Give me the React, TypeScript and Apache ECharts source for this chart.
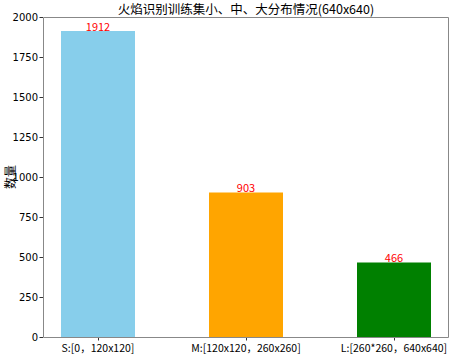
import React, { useEffect, useRef } from "react";
import * as echarts from "echarts";

const categories = ["S:[0，120x120]", "M:[120x120，260x260]", "L:[260*260，640x640]"];
const counts = [1912, 903, 466];
const barColors = ["#87CEEB", "#FFA500", "#008000"];
const yAxisTitle = "数量";

export default function App() {
  const ref = useRef<HTMLDivElement>(null);
  useEffect(() => {
    document.body.style.margin = "0";
    const chart = echarts.init(ref.current!, null, { renderer: "svg" });
    const font = "'Noto Sans CJK SC', 'DejaVu Sans', sans-serif";
    chart.setOption({
      animation: false,
      backgroundColor: "#fff",
      title: {
        text: "火焰识别训练集小、中、大分布情况(640x640)",
        left: 246,
        textAlign: "center",
        top: 1,
        padding: 0,
        textStyle: { fontSize: 12.5, lineHeight: 14, fontWeight: "normal", color: "#000", fontFamily: font },
      },
      graphic: [
        {
          type: "rect",
          shape: { x: 43.5, y: 17.5, width: 405, height: 320 },
          style: { fill: "none", stroke: "#888", lineWidth: 1 },
          z: 10,
          silent: true,
        },
        {
          type: "text",
          x: 9,
          y: 177,
          rotation: Math.PI / 2,
          style: {
            text: yAxisTitle,
            fontSize: 12,
            fontFamily: font,
            fill: "#000",
            align: "center",
            verticalAlign: "middle",
          },
        },
      ],
      grid: { left: 24, right: -15, top: 17, bottom: 20, outerBoundsMode: "none", containLabel: false },
      xAxis: {
        type: "category",
        data: categories,
        axisLine: { show: false },
        axisTick: { show: true, alignWithLabel: true, length: 3.5, lineStyle: { color: "#333" } },
        axisLabel: {
          interval: 0,
          fontSize: 10.5,
          color: "#000",
          fontFamily: font,
          margin: 5,
        },
      },
      yAxis: {
        type: "value",
        min: 0,
        max: 2000,
        interval: 250,
        offset: -19,
        splitLine: { show: false },
        axisLine: { show: false },
        axisTick: { show: true, length: 3.5, lineStyle: { color: "#333" } },
        axisLabel: {
          fontSize: 10,
          color: "#000",
          fontFamily: "'DejaVu Sans', sans-serif",
          margin: 5,
          formatter: (v: number) => String(v),
        },
      },
      series: [
        {
          type: "bar",
          barWidth: 74,
          data: counts.map((c, i) => ({ value: c, itemStyle: { color: barColors[i] } })),
          label: {
            show: true,
            position: "top",
            distance: 0,
            color: "#ff0000",
            fontSize: 11,
            fontFamily: font,
          },
        },
      ],
    });
    return () => chart.dispose();
  }, []);
  return <div ref={ref} style={{ width: 453, height: 357 }} />;
}
